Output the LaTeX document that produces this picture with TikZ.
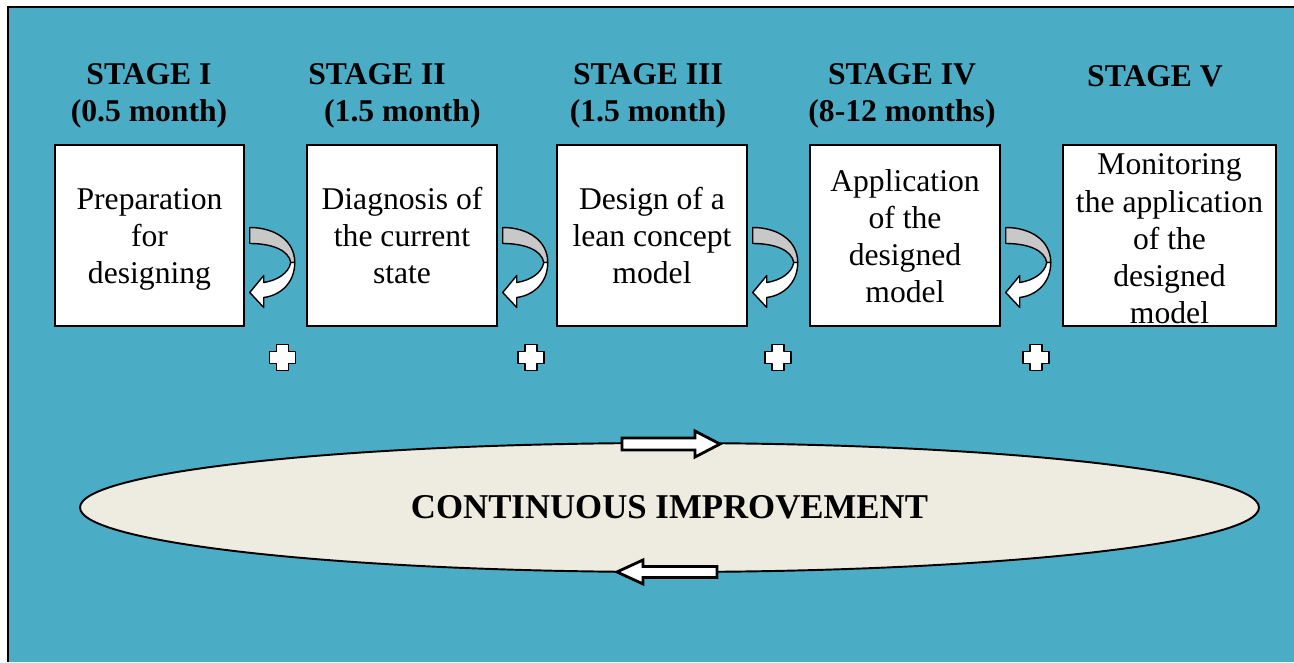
\documentclass[tikz,border=0pt]{standalone}
\usepackage{fontspec}
\setmainfont{Liberation Serif}
\usepackage{tikz}
\usetikzlibrary{shapes.geometric}
\definecolor{acqua}{HTML}{4BACC6}
\definecolor{sabbia}{HTML}{EEECE1}
\definecolor{grigio}{HTML}{C8C8C8}

\tikzset{
  stagebox/.style={draw, line width=0.85pt, fill=white, inner sep=0pt,
    minimum width=3.8cm, minimum height=3.62cm, align=center,
    font=\fontsize{18}{21}\selectfont, text height=54.3pt, text depth=0pt},
  stagelabel/.style={inner sep=0pt, align=center, font=\fontsize{18}{21}\selectfont\bfseries},
  twistarrow/.style={draw, line width=0.8pt, line join=round},
  crossmark/.style={draw, line width=1.1pt, fill=white, line join=round},
  blockarrow/.style={draw, line width=1.6pt, fill=white, line join=miter},
}

\begin{document}
\begin{tikzpicture}
    \useasboundingbox (0,0) rectangle (25.88,13.24);
    % sfondo
    \fill[acqua] (0.16,0) rectangle (25.88,13.1);
    \draw[line width=1.2pt] (0.16,0) -- (0.16,13.1) -- (25.88,13.1);

    \node[stagebox, minimum width=3.78cm] (b1) at (2.99,8.53) {Preparation\\for\\designing};
    \node[stagebox] (b2) at (8.04,8.53) {Diagnosis of\\the current\\state};
    \node[stagebox] (b3) at (13.04,8.53) {Design of a\\lean concept\\model};
    \node[stagebox, text height=75.8pt] (b4) at (18.1,8.53) {Application\\of the\\designed\\model};
    \node[stagebox, minimum width=4.26cm, font=\fontsize{18}{21.2}\selectfont, text height=100.5pt]
      (b5) at (23.39,8.53) {Monitoring\\the application\\of the\\designed\\model};

    \node[stagelabel] (s1) at (2.98,11.33) {STAGE I\\(0.5 month)};
    \node[stagelabel, anchor=west, align=left] (s2) at (6.16,11.33) {STAGE II\\\hspace*{9pt}(1.5 month)};
    \node[stagelabel] (s3) at (12.96,11.33) {STAGE III\\(1.5 month)};
    \node[stagelabel] (s4) at (18.04,11.33) {STAGE IV\\(8-12 months)};
    \node[stagelabel] (s5) at (23.1,11.72) {STAGE V};

    % frecce curve tra i riquadri
    \foreach \i in {1,...,4}{
      \begin{scope}[shift={(b\i.east)}]
        \draw[twistarrow, fill=grigio] (0.1,0.16) .. controls (0.6,0.16) and (1.0,-0.1) .. (1.0,-0.54)
          -- (0.92,-0.54) .. controls (0.88,-0.3) and (0.56,-0.16) .. (0.1,-0.16) -- cycle;
        \draw[twistarrow, fill=white] (1.0,-0.54) .. controls (1.0,-0.96) and (0.7,-1.2) .. (0.38,-1.24)
          -- (0.38,-1.44) -- (0.1,-1.14) -- (0.38,-0.8) -- (0.38,-0.94)
          .. controls (0.64,-0.9) and (0.88,-0.76) .. (0.92,-0.54) -- cycle;
      \end{scope}
    }

    \foreach \px in {5.65,10.62,15.56,20.72}
      \draw[crossmark, shift={(\px,6.09)}] (-0.12,0.26) -- (0.12,0.26) -- (0.12,0.12) -- (0.26,0.12)
        -- (0.26,-0.12) -- (0.12,-0.12) -- (0.12,-0.26) -- (-0.12,-0.26) -- (-0.12,-0.12)
        -- (-0.26,-0.12) -- (-0.26,0.12) -- (-0.12,0.12) -- cycle;

    \node[ellipse, draw, line width=1.1pt, fill=sabbia, minimum width=23.58cm, minimum height=2.58cm,
      inner sep=0pt, font=\fontsize{19.8}{22}\selectfont\bfseries] (ci) at (13.39,3.09) {CONTINUOUS IMPROVEMENT};

    \draw[blockarrow, shift={(ci.north)}] (-0.95,-0.16) -- (0.51,-0.16) -- (0.51,-0.30) -- (1.01,-0.04)
      -- (0.51,0.22) -- (0.51,0.08) -- (-0.95,0.08) -- cycle;
    \draw[blockarrow, shift={(ci.south)}] (0.95,-0.09) -- (-0.53,-0.09) -- (-0.53,-0.22) -- (-1.05,0.02)
      -- (-0.53,0.26) -- (-0.53,0.13) -- (0.95,0.13) -- cycle;
\end{tikzpicture}
\end{document}
